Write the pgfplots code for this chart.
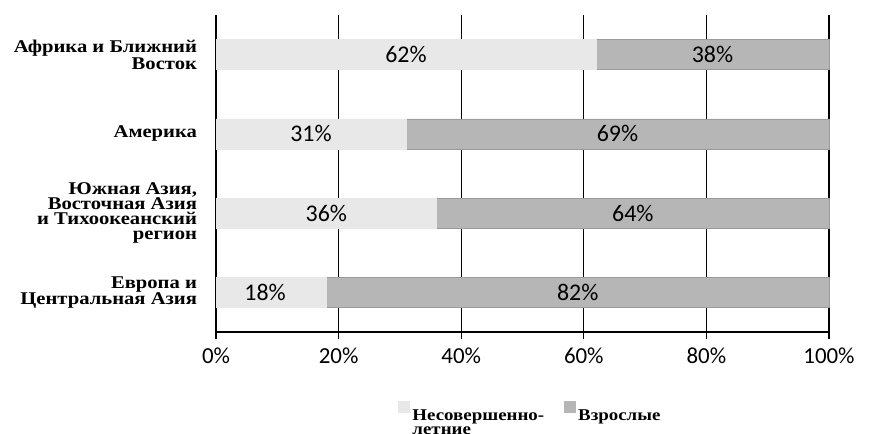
\documentclass[border=0pt]{standalone}
\usepackage{pgfplots}
\pgfplotsset{compat=1.18}
\usepackage{fontspec}
\setmainfont{Liberation Serif}
\newfontfamily\catfont{Liberation Serif}[FakeStretch=1.15]
\newfontfamily\carlito{Carlito}
\definecolor{lightbar}{RGB}{232,232,232}
\definecolor{darkbar}{RGB}{182,182,182}
\begin{document}
\begin{tikzpicture}
\begin{axis}[
  at={(216bp,102bp)}, anchor=south west,
  scale only axis, width=613bp, height=317bp,
  xbar stacked, bar width=30bp,
  xmin=0, xmax=100, ymin=-0.5, ymax=3.5,
  axis x line=bottom, axis y line=left,
  axis line style={-, line width=1.2pt},
  xtick={0,20,40,60,80,100},
  xticklabels={{0\%},{20\%},{40\%},{60\%},{80\%},{100\%}},
  x tick label style={font=\carlito\fontsize{23}{23}\selectfont, yshift=-5bp},
  xmajorgrids, grid style={black, line width=1.2pt},
  major x tick style={black, line width=1.2pt},
  xtick align=outside, major tick length=7bp,
  ytick={0,1,2,3},
  yticklabels={{Европа и\\Центральная Азия},{Южная Азия,\\Восточная Азия\\и Тихоокеанский\\регион},{Америка},{Африка и Ближний\\Восток}},
  y tick label style={font=\catfont\bfseries\fontsize{18}{15}\selectfont, align=right, xshift=-12bp},
  major y tick style={draw=none},
  extra y ticks={-0.5,0.5,1.5,2.5,3.5},
  extra y tick labels={},
  extra y tick style={ytick align=outside, major tick length=6bp, tick style={black, line width=1.2pt}},
  legend style={at={(0.513,-0.21)}, anchor=north, draw=none, fill=none,
    legend columns=2, font=\catfont\bfseries\fontsize{16.5}{14}\selectfont,
    cells={align=left, anchor=north west},
    /tikz/every even column/.append style={column sep=18bp}},
  legend image code/.code={\draw[#1, draw=none] (0bp,-5bp) rectangle (12bp,7bp);},
  clip=false,
]
\addplot[fill=lightbar, draw=lightbar] coordinates {(18,0) (36,1) (31,2) (62,3)};
\addplot[fill=darkbar, draw=darkbar!85!black] coordinates {(82,0) (64,1) (69,2) (38,3)};
\legend{{Несовершенно-\\летние},{Взрослые}}
\end{axis}
\begin{axis}[
  at={(216bp,102bp)}, anchor=south west,
  scale only axis, width=613bp, height=317bp,
  xmin=0, xmax=100, ymin=-0.5, ymax=3.5,
  hide axis, clip=false,
]
\addplot[only marks, mark=none, nodes near coords, point meta=explicit symbolic,
  every node near coord/.style={anchor=center, font=\carlito\fontsize{24}{24}\selectfont}]
  table[meta=l] {
x y l
31 3 62\%
81 3 38\%
15.5 2 31\%
65.5 2 69\%
18 1 36\%
68 1 64\%
8 0 18\%
59 0 82\%
};
\end{axis}
\pgfresetboundingbox
\useasboundingbox (0,0) rectangle (871bp,434bp);
\end{tikzpicture}
\end{document}
